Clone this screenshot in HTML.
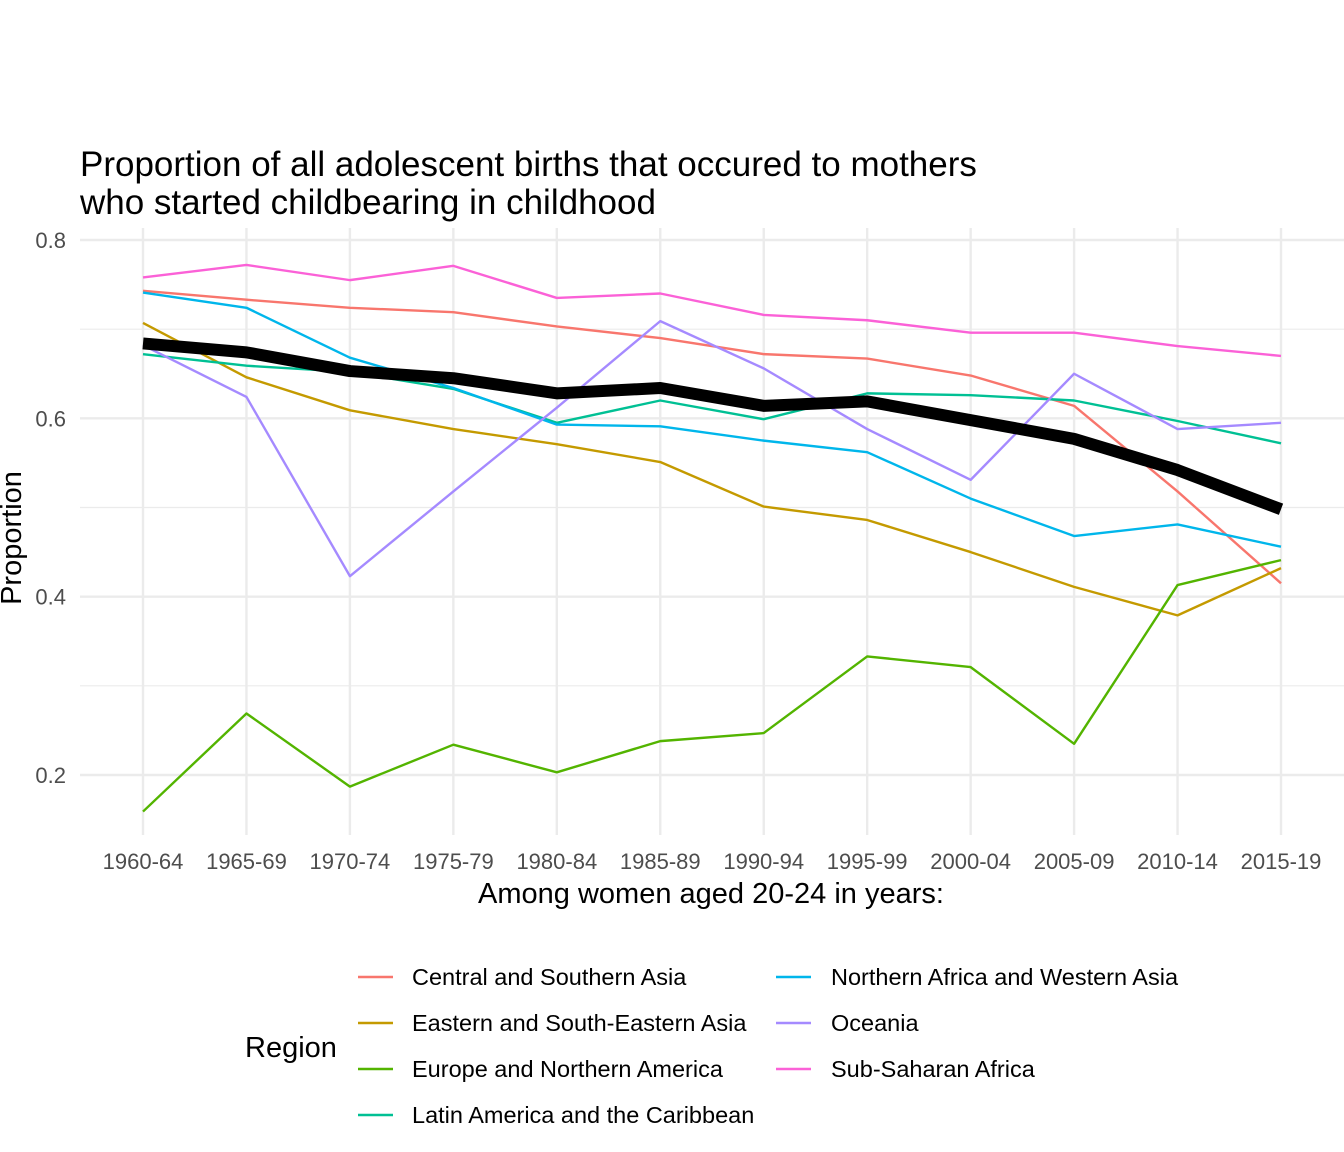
<!DOCTYPE html>
<html><head><meta charset="utf-8"><style>
body{margin:0;background:#fff;}
svg{display:block;font-family:"Liberation Sans",Arial,sans-serif;}
</style></head><body>
<svg id="chart" width="1344" height="1152" viewBox="0 0 1344 1152">
<text x="80" y="176" font-size="35" fill="#000">Proportion of all adolescent births that occured to mothers</text>
<text x="80" y="214" font-size="35" fill="#000">who started childbearing in childhood</text>
<g id="grid"></g><g id="series"></g><g id="axes"></g><g id="legend"></g>
<text x="711" y="903" font-size="29" text-anchor="middle" fill="#000">Among women aged 20-24 in years:</text>
<text transform="translate(21,538) rotate(-90)" font-size="29" text-anchor="middle" fill="#000">Proportion</text>
<text x="245" y="1057" font-size="29" fill="#000">Region</text>
</svg>
<script>
const categories=["1960-64","1965-69","1970-74","1975-79","1980-84","1985-89","1990-94","1995-99","2000-04","2005-09","2010-14","2015-19"];
const seriesNames=["Central and Southern Asia","Eastern and South-Eastern Asia","Europe and Northern America","Latin America and the Caribbean","Northern Africa and Western Asia","Oceania","Sub-Saharan Africa"];
const seriesColors=["#F8766D","#C49A00","#53B400","#00C094","#00B6EB","#A58AFF","#FB61D7"];
const centralSouthernAsia=[0.743,0.733,0.724,0.719,0.703,0.690,0.672,0.667,0.648,0.614,0.518,0.415];
const easternSEAsia=[0.707,0.646,0.609,0.588,0.571,0.551,0.501,0.486,0.450,0.411,0.379,0.432];
const europeNA=[0.159,0.269,0.187,0.234,0.203,0.238,0.247,0.333,0.321,0.235,0.413,0.441];
const latinAmerica=[0.672,0.659,0.652,0.633,0.595,0.620,0.599,0.628,0.626,0.620,0.597,0.572];
const nAfricaWAsia=[0.741,0.724,0.668,0.634,0.593,0.591,0.575,0.562,0.510,0.468,0.481,0.456];
const oceania=[0.682,0.624,0.423,0.518,0.612,0.709,0.656,0.588,0.531,0.650,0.588,0.595];
const subSaharan=[0.758,0.772,0.755,0.771,0.735,0.740,0.716,0.710,0.696,0.696,0.681,0.670];
const overall=[0.684,0.674,0.653,0.645,0.628,0.634,0.614,0.619,0.598,0.577,0.542,0.498];
const yTicks=[0.2,0.4,0.6,0.8];
const yMinor=[0.3,0.5,0.7];
const seriesData=[centralSouthernAsia,easternSEAsia,europeNA,latinAmerica,nAfricaWAsia,oceania,subSaharan];

const NS="http://www.w3.org/2000/svg";
const x0=143,x1=1281,yTop=240,vTop=0.8,vBot=0.2,yBot=775;
function xScale(i){return x0+(x1-x0)*i/(categories.length-1);}
function yScale(v){return yTop+(vTop-v)*(yBot-yTop)/(vTop-vBot);}
function mk(tag,attrs,parent){const e=document.createElementNS(NS,tag);for(const k in attrs)e.setAttribute(k,attrs[k]);parent.appendChild(e);return e;}
const grid=document.getElementById('grid'),ser=document.getElementById('series'),axes=document.getElementById('axes'),leg=document.getElementById('legend');
const pL=80,pR=1344,pT=228,pB=835;
yMinor.forEach(v=>{const l=mk('line',{x1:pL,x2:pR,y1:yScale(v),y2:yScale(v),stroke:'#ebebeb','stroke-width':1.2},grid);

});
yTicks.forEach(v=>{const l=mk('line',{x1:pL,x2:pR,y1:yScale(v),y2:yScale(v),stroke:'#ebebeb','stroke-width':2.4},grid);


const t=mk('text',{x:66,y:yScale(v)+8,'font-size':22,'text-anchor':'end',fill:'#4d4d4d'},axes);t.textContent=v.toFixed(1);

});
categories.forEach((c,i)=>{const l=mk('line',{x1:xScale(i),x2:xScale(i),y1:pT,y2:pB,stroke:'#ebebeb','stroke-width':2.4},grid);


const t=mk('text',{x:xScale(i),y:869,'font-size':22,'text-anchor':'middle',fill:'#4d4d4d'},axes);t.textContent=c;

});
seriesData.forEach((d,s)=>{const p=mk('polyline',{points:d.map((v,i)=>xScale(i)+','+yScale(v)).join(' '),fill:'none',stroke:seriesColors[s],'stroke-width':2.4,'stroke-linejoin':'round'},ser);

});
const ov=mk('polyline',{points:overall.map((v,i)=>xScale(i)+','+yScale(v)).join(' '),fill:'none',stroke:'#000','stroke-width':12,'stroke-linejoin':'round'},ser);


seriesNames.forEach((n,s)=>{const col=s<4?0:1,row=s<4?s:s-4;const kx=col?776:358,tx=col?831:412,y=977+row*46;
const g=mk('g',{},leg);


mk('line',{x1:kx,x2:kx+35,y1:y,y2:y,stroke:seriesColors[s],'stroke-width':2.4},g);
const t=mk('text',{x:tx,y:y+8,'font-size':23.5,fill:'#000'},g);t.textContent=n;});
</script>
</body></html>
